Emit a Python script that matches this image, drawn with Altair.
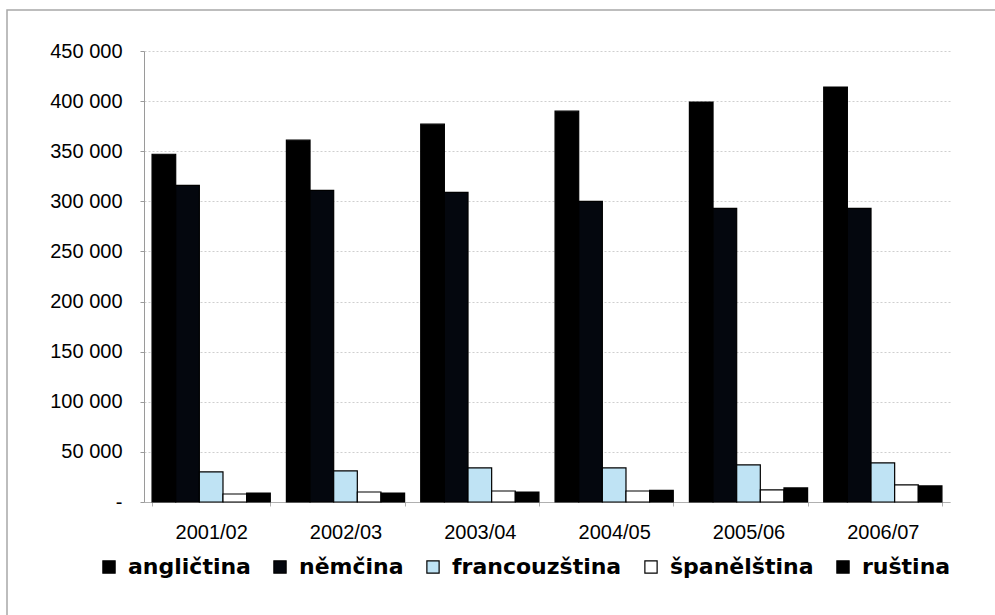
import altair as alt
import pandas as pd

# School years and the number of pupils learning each language
years = ["2001/02", "2002/03", "2003/04", "2004/05", "2005/06", "2006/07"]
languages = ["angličtina", "němčina", "francouzština", "španělština", "ruština"]

anglictina = [347000, 361000, 377000, 390000, 399000, 414000]
nemcina = [316000, 311000, 309000, 300000, 293000, 293000]
francouzstina = [30000, 31000, 34000, 34000, 37000, 39000]
spanelstina = [8000, 10000, 11000, 11000, 12000, 17000]
rustina = [9000, 9000, 10000, 11500, 14000, 16000]

colors = ["#000000", "#04070e", "#bfe3f4", "#ffffff", "#000000"]
y_ticks = [0, 50000, 100000, 150000, 200000, 250000, 300000, 350000, 400000, 450000]

series = [anglictina, nemcina, francouzstina, spanelstina, rustina]
rows = []
for lang, values in zip(languages, series):
    for year, v in zip(years, values):
        rows.append({"rok": year, "jazyk": lang, "pocet": v})
df = pd.DataFrame(rows)

FONT = "Liberation Sans"

# thin grey frame around the whole chart area
frame = alt.Chart(pd.DataFrame({"k": [0]})).mark_rect(
    fillOpacity=0, stroke="#a8a8a8", strokeWidth=1.5
).encode(
    x=alt.value(-137), x2=alt.value(880), y=alt.value(-41), y2=alt.value(640)
)

bars = alt.Chart(df).mark_bar(stroke="black", strokeWidth=1.2).encode(
    x=alt.X(
        "rok:N",
        sort=years,
        scale=alt.Scale(paddingInner=0.12, paddingOuter=0.06),
        axis=alt.Axis(
            title=None,
            labelAngle=0,
            labelFont=FONT,
            labelFontSize=20,
            labelColor="black",
            labelPadding=16,
            tickBand="extent",
            tickSize=4,
            tickColor="#b0b0b0",
            domainColor="#b0b0b0",
            grid=False,
        ),
    ),
    xOffset=alt.XOffset(
        "jazyk:N", sort=languages, scale=alt.Scale(paddingInner=0, paddingOuter=0)
    ),
    y=alt.Y(
        "pocet:Q",
        scale=alt.Scale(domain=[0, 450000], nice=False),
        axis=alt.Axis(
            title=None,
            values=y_ticks,
            labelExpr="datum.value == 0 ? '-' : replace(format(datum.value, ','), ',', ' ')",
            labelFont=FONT,
            labelFontSize=20,
            labelColor="black",
            labelPadding=18,
            tickSize=4,
            tickColor="#9a9a9a",
            domainColor="#9a9a9a",
            grid=True,
            gridColor="#cfcfcf",
            gridDash=[2, 2],
            gridWidth=1,
        ),
    ),
    color=alt.Color(
        "jazyk:N",
        sort=languages,
        scale=alt.Scale(domain=languages, range=colors),
        legend=alt.Legend(
            title=None,
            orient="none",
            direction="horizontal",
            legendX=-46,
            legendY=505,
            symbolType="square",
            symbolSize=150,
            symbolStrokeColor="black",
            symbolStrokeWidth=1.2,
            symbolOpacity=1,
            labelFont="DejaVu Sans",
            labelFontWeight="bold",
            labelFontSize=22,
            labelColor="black",
            labelOffset=8,
            columnPadding=18,
            labelLimit=300,
        ),
    ),
)

chart = alt.layer(frame, bars).properties(
    width=806,
    height=451,
    padding={"left": 144, "top": 51, "right": 45, "bottom": 113},
    autosize=alt.AutoSizeParams(type="none"),
    background="white",
).configure_view(strokeWidth=0)

chart.save("out.html", embed_options={"renderer": "svg", "actions": False})
